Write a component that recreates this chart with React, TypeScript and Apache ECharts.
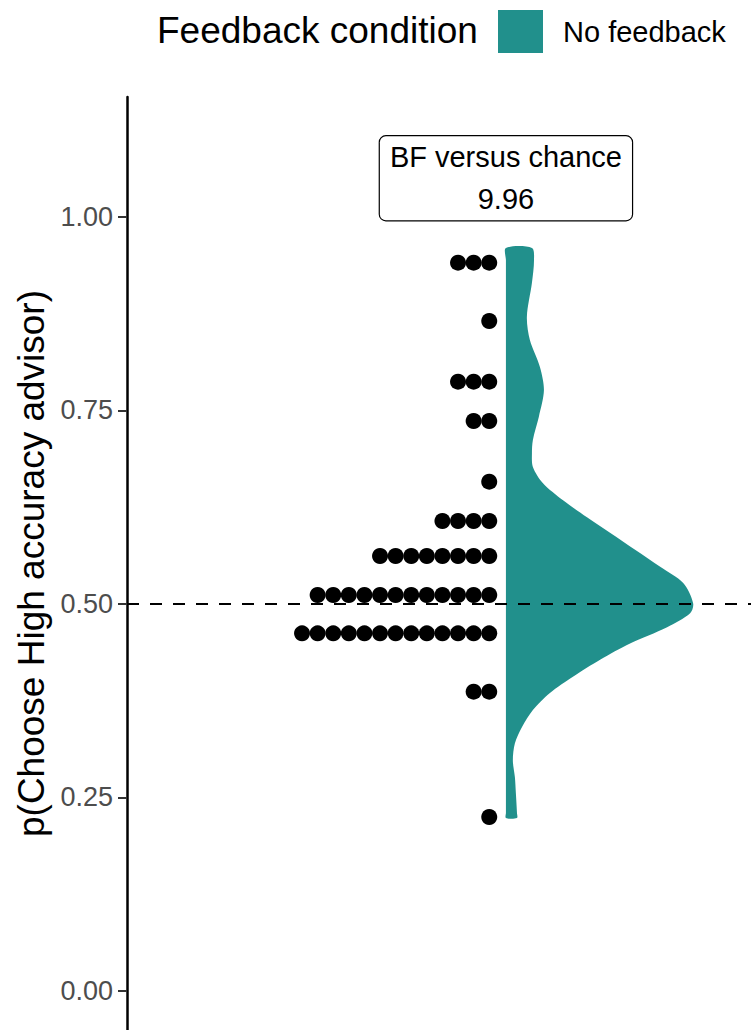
import { useEffect, useRef } from "react";
import * as echarts from "echarts";

// ---- data ----
const dotValues = [0.941, 0.8656, 0.7872, 0.7364, 0.658, 0.6072, 0.562, 0.5116, 0.4621, 0.3867, 0.2248];
const dotCounts = [3, 1, 3, 2, 1, 4, 8, 12, 13, 2, 1];

const violinValues = [
  0.96, 0.944, 0.915, 0.871, 0.841, 0.806, 0.776, 0.742, 0.712, 0.695, 0.677, 0.656, 0.634, 0.612,
  0.592, 0.57, 0.548, 0.527, 0.501, 0.488, 0.47, 0.449, 0.428, 0.406, 0.385, 0.363, 0.341, 0.32,
  0.298, 0.276, 0.256, 0.23, 0.2235,
];
const violinDensity = [
  0.139, 0.15, 0.139, 0.112, 0.128, 0.182, 0.203, 0.176, 0.144, 0.139, 0.144, 0.198, 0.305, 0.433,
  0.556, 0.69, 0.824, 0.947, 1.0, 0.984, 0.861, 0.663, 0.503, 0.358, 0.235, 0.144, 0.086, 0.048,
  0.037, 0.048, 0.053, 0.059, 0.059,
];

const yTicks = [0, 0.25, 0.5, 0.75, 1.0];
const chanceLevel = 0.5;
const bfLines = ["BF versus chance", "9.96"];
const bfY = 1.05;
const legendTitle = "Feedback condition";
const conditionName = "No feedback";
const yAxisTitle = "p(Choose High accuracy advisor)";

// ---- layout / style constants ----
const TEAL = "#21908C";
const FONT = "'Liberation Sans', Arial, Helvetica, sans-serif";
const DOT_RIGHT = 23.22; // x units (1 unit = dot spacing)
const VIOLIN_BASE = 24.29;
const VIOLIN_MAXW = 12;

export default function App() {
  const ref = useRef<HTMLDivElement>(null);

  useEffect(() => {
    document.body.style.margin = "0";
    if (!ref.current) return;
    const chart = echarts.init(ref.current, null, { renderer: "svg" });

    const dots: number[][] = [];
    dotValues.forEach((v, r) => {
      for (let i = 0; i < dotCounts[r]; i++) dots.push([DOT_RIGHT - i, v]);
    });

    const option: any = {
      animation: false,
      backgroundColor: "#fff",
      textStyle: { fontFamily: FONT },
      grid: { left: 127, top: 97, right: 0, bottom: 0, containLabel: false },
      legend: {
        left: 498,
        top: 10,
        padding: 0,
        itemWidth: 45,
        itemHeight: 43,
        selectedMode: false,
        data: [{ name: conditionName, icon: "rect", itemStyle: { color: TEAL } }],
        textStyle: { fontSize: 29, color: "#000", fontFamily: FONT, padding: [0, 0, 0, 15] },
      },
      graphic: [
        {
          type: "text",
          left: 157,
          top: 12,
          style: { text: legendTitle, fontSize: 37, fill: "#000", fontFamily: FONT },
        },
      ],
      xAxis: {
        type: "value",
        min: 0,
        max: 40,
        show: false,
      },
      yAxis: {
        type: "value",
        min: -0.0504,
        max: 1.155,
        name: yAxisTitle,
        nameLocation: "middle",
        nameRotate: 90,
        nameGap: 70,
        nameTextStyle: { fontSize: 37, color: "#000", fontFamily: FONT },
        axisLine: { show: true, lineStyle: { color: "#000", width: 2.5 } },
        axisTick: {
          show: true,
          length: 9,
          lineStyle: { color: "#333", width: 2 },
          customValues: yTicks,
        },
        axisLabel: {
          color: "#4D4D4D",
          fontSize: 27,
          margin: 14,
          fontFamily: FONT,
          customValues: yTicks,
          formatter: (v: number) => v.toFixed(2),
        },
        splitLine: { show: false },
      },
      series: [
        {
          type: "line",
          name: "chance",
          data: [],
          z: 1,
          silent: true,
          markLine: {
            silent: true,
            symbol: "none",
            label: { show: false },
            lineStyle: { color: "#000", width: 2, type: [12, 11], opacity: 1 },
            data: [{ yAxis: chanceLevel }],
          },
        },
        {
          type: "custom",
          name: conditionName,
          z: 2,
          silent: true,
          itemStyle: { color: TEAL },
          data: [[VIOLIN_BASE, chanceLevel]],
          renderItem: (_params: any, api: any) => {
            const pts: number[][] = [];
            violinValues.forEach((v, i) => {
              pts.push(api.coord([VIOLIN_BASE + violinDensity[i] * VIOLIN_MAXW, v]));
            });
            for (let i = violinValues.length - 1; i >= 0; i--) {
              pts.push(api.coord([VIOLIN_BASE, violinValues[i]]));
            }
            return {
              type: "polygon",
              shape: { points: pts, smooth: 0.3 },
              style: { fill: TEAL },
            };
          },
        },
        {
          type: "scatter",
          name: "participants",
          z: 3,
          silent: true,
          symbol: "circle",
          symbolSize: 16,
          itemStyle: { color: "#000", opacity: 1 },
          data: dots,
        },
        {
          type: "scatter",
          name: "bf",
          z: 4,
          silent: true,
          symbolSize: 0,
          data: [[VIOLIN_BASE, bfY]],
          label: {
            show: true,
            position: "inside",
            formatter: bfLines.join("\n"),
            fontSize: 29,
            lineHeight: 42,
            color: "#000",
            opacity: 1,
            fontFamily: FONT,
            backgroundColor: "#fff",
            borderColor: "#000",
            borderWidth: 1.2,
            borderRadius: 6,
            padding: [0, 10],
            align: "center",
          },
        },
      ],
    };

    chart.setOption(option);
    return () => chart.dispose();
  }, []);

  return <div ref={ref} style={{ width: 751, height: 1030 }} />;
}
